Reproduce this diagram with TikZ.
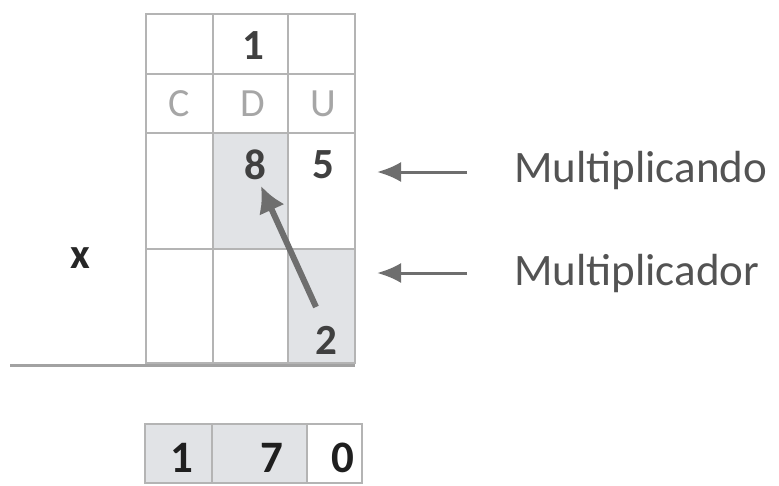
\documentclass[tikz,border=0pt]{standalone}
\usepackage{fontspec}
\setmainfont{Carlito}
\usetikzlibrary{arrows.meta}
\definecolor{gridc}{HTML}{B4B4B4}
\definecolor{shadec}{HTML}{E1E3E6}
\definecolor{digc}{HTML}{404040}
\definecolor{letc}{HTML}{A6A6A6}
\definecolor{arrc}{HTML}{6E6E6E}
\tikzset{
  gridline/.style={draw=gridc, line width=2pt},
  digit/.style={font=\fontsize{43}{43}\selectfont\bfseries, text=digc, inner sep=0pt, anchor=center},
  letter/.style={font=\fontsize{40}{40}\selectfont, text=letc, inner sep=0pt, anchor=center},
  label/.style={font=\fontsize{45}{45}\selectfont, text=digc!90!white, inner sep=0pt, anchor=west},
  res/.style={font=\fontsize{45}{45}\selectfont\bfseries, text=black!88, inner sep=0pt, anchor=center},
  sidearrow/.style={draw=arrc, line width=3pt, -{Latex[length=24pt,width=20pt]}},
  bigarrow/.style={draw=arrc, line width=6pt, -{Latex[length=26pt,width=28pt]}},
}
\begin{document}
\begin{tikzpicture}[x=1pt,y=-1pt]
\useasboundingbox (0,0) rectangle (779,485);
% shading
\fill[shadec] (213,133) rectangle (288,249);
\fill[shadec] (288,249) rectangle (355,363);
% grid
\draw[gridline] (146,14) rectangle (355,363);
\foreach \x in {213,288} \draw[gridline] (\x,14) -- (\x,363);
\foreach \y in {74,133,249} \draw[gridline] (146,\y) -- (355,\y);
% base line
\draw[draw=gridc!90!black, line width=3pt] (10,365) -- (355,365);
% texts in grid
\node[digit] (carry) at (253,46) {1};
\node[letter] (c) at (179,104) {C};
\node[letter] (d) at (253,104) {D};
\node[letter] (u) at (323,104) {U};
\node[digit] (eight) at (255,165) {8};
\node[digit] (five) at (323,165) {5};
\node[digit] (two) at (326,340) {2};
\node[digit, text=black!85] (times) at (80,258) {x};
% big arrow
\coordinate (tail) at (316,307);
\coordinate (tip) at (261,186);
\draw[bigarrow] (tail) -- (tip);
% side labels
\node[label] (mcando) at (514,170) {Multiplicando};
\node[label] (mcador) at (514,273) {Multiplicador};
\coordinate (a1s) at (467,172);
\coordinate (a1e) at (377,172);
\coordinate (a2s) at (467,273);
\coordinate (a2e) at (377,273);
\draw[sidearrow] (a1s) -- (a1e);
\draw[sidearrow] (a2s) -- (a2e);
% result boxes
\fill[shadec] (145,424) rectangle (307,483);
\draw[gridline] (145,424) rectangle (362,483);
\draw[gridline] (212,424) -- (212,483);
\draw[gridline] (307,424) -- (307,483);
\node[res] (r1) at (182,458) {1};
\node[res] (r7) at (272,458) {7};
\node[res] (r0) at (343,458) {0};
\end{tikzpicture}
\end{document}
